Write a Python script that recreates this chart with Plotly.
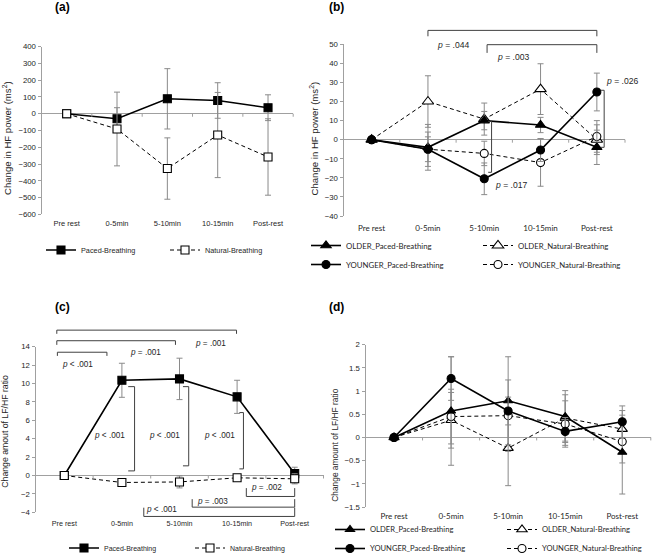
import plotly.graph_objects as go

W, H = 657, 554

categories = ["Pre rest", "0-5min", "5-10min", "10-15min", "Post-rest"]

# ---------------- Panel (a): change in HF power ----------------
a_paced = [0, -30, 89, 79, 36]
a_paced_err = [0, 66, 180, 106, 77]
a_natural = [0, -91, -327, -127, -258]
a_natural_err = [0, 220, 183, 254, 228]

# ---------------- Panel (b): HF power by age group ----------------
b_older_paced = [0, -4, 10, 7.7, -4]
b_older_paced_err = [0, 12, 4.8, 4, 9]
b_older_natural = [0, 20, 10.8, 26.5, 0]
b_older_natural_err = [0, 13.5, 8.4, 13.3, 7.8]
b_younger_paced = [0, -5, -20.5, -5.4, 25]
b_younger_paced_err = [0, 9, 8.3, 6, 9.9]
b_younger_natural = [0, -5, -7.2, -12, 1.7]
b_younger_natural_err = [0, 6.5, 6.4, 12.4, 8.3]

# ---------------- Panel (c): LF/HF ratio ----------------
c_paced = [0, 10.35, 10.5, 8.55, 0.2]
c_paced_err = [0, 1.85, 2.25, 1.8, 0.7]
c_natural = [0, -0.76, -0.7, -0.25, -0.36]
c_natural_err = [0, 0.3, 0.65, 0.3, 0.55]

# ---------------- Panel (d): LF/HF ratio by age group ----------------
d_older_paced = [0, 0.57, 0.79, 0.45, -0.32]
d_older_paced_err = [0, 1.17, 0.95, 0.56, 0.9]
d_older_natural = [0, 0.37, -0.23, 0.42, 0.18]
d_older_natural_err = [0, 0.6, 0.81, 0.5, 0.3]
d_younger_paced = [0, 1.27, 0.57, 0.13, 0.34]
d_younger_paced_err = [0, 0.47, 0.3, 0.3, 0.34]
d_younger_natural = [0, 0.45, 0.47, 0.29, -0.09]
d_younger_natural_err = [0, 0.59, 0.77, 0.5, 0.46]

# ---------------- significance brackets (category index, value) ----------------
b_brackets_h = [(1.0, 4.0, 57.3, 54.2), (2.05, 4.0, 49.8, 45.5)]
b_brackets_v = [(4.13, 4.07, 25.9, -4.0), (2.13, 2.07, 9.6, -17.1)]
b_pvals = [("p", " = .044", 1.46, 49.7, "center"), ("p", " = .003", 2.52, 43.3, "center"),
           ("p", " = .026", 4.12, 30.9, "left"), ("p", " = .017", 2.15, -23.9, "left")]

c_brackets_h = [(-0.13, 2.99, 15.8, 15.4), (-0.13, 1.93, 14.65, 14.2), (-0.12, 0.74, 13.4, 13.0),
                (3.16, 4.0, -2.28, -1.37), (2.22, 4.0, -3.44, -2.57), (1.38, 4.0, -4.45, -3.5)]
c_brackets_v = [(1.22, 1.11, 9.66, 0.5), (2.16, 2.06, 9.66, 1.05), (3.11, 3.04, 6.84, 0.72)]
c_pvals = [("p", " < .001", 0.23, 12.1), ("p", " = .001", 1.41, 13.4), ("p", " = .001", 2.54, 14.4),
           ("p", " < .001", 0.79, 4.34), ("p", " < .001", 1.74, 4.34), ("p", " < .001", 2.69, 4.34),
           ("p", " = .002", 3.51, -1.35), ("p", " = .003", 2.57, -2.82), ("p", " < .001", 1.69, -3.65)]

# ---------------- geometry / style ----------------
P = {
    "a": dict(x0=41.5, x1=293.2, y0=46.7, y1=214.3, ymin=-600, ymax=400, dtick=100, ax="", so=3),
    "b": dict(x0=343.5, x1=625.0, y0=44.3, y1=216.0, ymin=-40, ymax=50, dtick=10, ax="2", so=6),
    "c": dict(x0=35.5, x1=323.5, y0=346.7, y1=512.3, ymin=-4, ymax=14, dtick=2, ax="3", so=5),
    "d": dict(x0=365.5, x1=650.8, y0=344.7, y1=507.0, ymin=-1.5, ymax=2, dtick=0.5, ax="4", so=3),
}
ARIAL = "Liberation Sans, Arial, sans-serif"
CALIBRI = "Lato, Carlito, Calibri, sans-serif"
AX = "#a0a0a0"
ERR = "#8a8a8a"
TXT = "#262626"


def fx(p, xv):
    g = P[p]
    return (g["x0"] + (xv + 0.5) / 5 * (g["x1"] - g["x0"])) / W


def fy(p, yv):
    g = P[p]
    return 1 - (g["y0"] + (g["ymax"] - yv) / (g["ymax"] - g["ymin"]) * (g["y1"] - g["y0"])) / H


fig = go.Figure()


def add_series(panel, y, err, symbol, filled, dashed, name, legend, size):
    g = P[panel]
    fig.add_trace(go.Scatter(
        x=categories, y=y, name=name, mode="lines+markers",
        xaxis="x" + g["ax"], yaxis="y" + g["ax"], legend=legend,
        line=dict(color="black", width=1.0 if dashed else 1.6, dash="4px,3px" if dashed else "solid"),
        marker=dict(symbol=symbol, size=size, color="black" if filled else "white",
                    line=dict(color="black", width=1.1)),
        error_y=dict(type="data", array=err, visible=True, color=ERR, thickness=1, width=3),
    ))


add_series("a", a_paced, a_paced_err, "square", True, False, "Paced-Breathing", "legend", 8)
add_series("a", a_natural, a_natural_err, "square", False, True, "Natural-Breathing", "legend2", 8)

add_series("b", b_older_natural, b_older_natural_err, "triangle-up", False, True, "OLDER_Natural-Breathing", "legend4", 10)
add_series("b", b_younger_natural, b_younger_natural_err, "circle", False, True, "YOUNGER_Natural-Breathing", "legend4", 8)
add_series("b", b_older_paced, b_older_paced_err, "triangle-up", True, False, "OLDER_Paced-Breathing", "legend3", 9)
add_series("b", b_younger_paced, b_younger_paced_err, "circle", True, False, "YOUNGER_Paced-Breathing", "legend3", 8)

add_series("c", c_paced, c_paced_err, "square", True, False, "Paced-Breathing", "legend5", 8)
add_series("c", c_natural, c_natural_err, "square", False, True, "Natural-Breathing", "legend6", 8)

add_series("d", d_older_natural, d_older_natural_err, "triangle-up", False, True, "OLDER_Natural-Breathing", "legend8", 9)
add_series("d", d_younger_natural, d_younger_natural_err, "circle", False, True, "YOUNGER_Natural-Breathing", "legend8", 8)
add_series("d", d_older_paced, d_older_paced_err, "triangle-up", True, False, "OLDER_Paced-Breathing", "legend7", 8)
add_series("d", d_younger_paced, d_younger_paced_err, "circle", True, False, "YOUNGER_Paced-Breathing", "legend7", 8)

layout = dict(
    width=W, height=H, margin=dict(l=0, r=0, t=0, b=0, autoexpand=False),
    paper_bgcolor="white", plot_bgcolor="white", showlegend=True,
)

xfont = {"a": ARIAL, "b": CALIBRI, "c": ARIAL, "d": CALIBRI}
xsize = {"a": 7.5, "b": 8, "c": 7.2, "d": 8}
for k, g in P.items():
    layout["xaxis" + g["ax"]] = dict(
        domain=[g["x0"] / W, g["x1"] / W], anchor="y" + g["ax"], type="category",
        range=[-0.5, 4.5], showline=False, showgrid=False, zeroline=False, ticks="",
        tickfont=dict(family=xfont[k], size=xsize[k], color=TXT), ticklabelstandoff=g["so"],
    )
    layout["yaxis" + g["ax"]] = dict(
        domain=[1 - g["y1"] / H, 1 - g["y0"] / H], anchor="x" + g["ax"],
        range=[g["ymin"], g["ymax"]], dtick=g["dtick"], tick0=0, showgrid=False,
        showline=True, linecolor=AX, linewidth=1, ticks="outside", ticklen=3, tickcolor=AX,
        zeroline=True, zerolinecolor=AX, zerolinewidth=1,
        tickfont=dict(family=ARIAL, size=7.8, color=TXT),
    )


def leg(xpx, ypx, fam, size):
    return dict(x=xpx / W, y=1 - ypx / H, xanchor="left", yanchor="middle", orientation="v",
                bgcolor="rgba(0,0,0,0)", borderwidth=0, tracegroupgap=0,
                font=dict(family=fam, size=size, color=TXT))


layout["legend"] = leg(41, 250, ARIAL, 7.3)
layout["legend2"] = leg(165, 250, ARIAL, 7.3)
layout["legend3"] = leg(306, 255, CALIBRI, 7.8)
layout["legend4"] = leg(478, 255, CALIBRI, 7.8)
layout["legend5"] = leg(64, 548, ARIAL, 7.0)
layout["legend6"] = leg(190, 548, ARIAL, 7.0)
layout["legend7"] = leg(330, 539, CALIBRI, 7.6)
layout["legend8"] = leg(502, 539, CALIBRI, 7.6)

shapes = []
annotations = []

# tick marks on the category (zero) axis between categories
for k in P:
    for b in [0.5, 1.5, 2.5, 3.5, 4.5]:
        xp = fx(k, b)
        yp = fy(k, 0)
        shapes.append(dict(type="line", xref="paper", yref="paper", x0=xp, x1=xp,
                           y0=yp, y1=yp - 3 / H, line=dict(color=AX, width=1)))


def hbracket(p, x0, x1, yb, yt):
    path = "M {:.5f},{:.5f} L {:.5f},{:.5f} L {:.5f},{:.5f} L {:.5f},{:.5f}".format(
        fx(p, x0), fy(p, yt), fx(p, x0), fy(p, yb), fx(p, x1), fy(p, yb), fx(p, x1), fy(p, yt))
    shapes.append(dict(type="path", xref="paper", yref="paper", path=path,
                       line=dict(color="#404040", width=1)))


def vbracket(p, xb, xt, y0, y1):
    path = "M {:.5f},{:.5f} L {:.5f},{:.5f} L {:.5f},{:.5f} L {:.5f},{:.5f}".format(
        fx(p, xt), fy(p, y0), fx(p, xb), fy(p, y0), fx(p, xb), fy(p, y1), fx(p, xt), fy(p, y1))
    shapes.append(dict(type="path", xref="paper", yref="paper", path=path,
                       line=dict(color="#404040", width=1)))


for br in b_brackets_h:
    hbracket("b", *br)
for br in b_brackets_v:
    vbracket("b", *br)
for br in c_brackets_h:
    hbracket("c", *br)
for br in c_brackets_v:
    vbracket("c", *br)

for letter, rest, xv, yv, anc in b_pvals:
    annotations.append(dict(xref="paper", yref="paper", x=fx("b", xv), y=fy("b", yv),
                            text="<i>" + letter + "</i>" + rest, showarrow=False,
                            xanchor=anc, yanchor="middle",
                            font=dict(family=ARIAL, size=8.6, color=TXT)))
for letter, rest, xv, yv in c_pvals:
    annotations.append(dict(xref="paper", yref="paper", x=fx("c", xv), y=fy("c", yv),
                            text="<i>" + letter + "</i>" + rest, showarrow=False,
                            xanchor="center", yanchor="middle",
                            font=dict(family=ARIAL, size=8.2, color=TXT)))

# panel letters
for txt, xpx, ypx in [("(a)", 62.5, 7), ("(b)", 336.5, 7), ("(c)", 62.5, 306.7), ("(d)", 336.5, 306.7)]:
    annotations.append(dict(xref="paper", yref="paper", x=xpx / W, y=1 - ypx / H, text="<b>" + txt + "</b>",
                            showarrow=False, xanchor="center", yanchor="middle",
                            font=dict(family=ARIAL, size=12, color="black")))

# y-axis titles
for txt, xpx, ypx, sz in [("Change in HF power (ms<sup>2</sup>)", 7, 138, 9.6),
                          ("Change in HF power (ms<sup>2</sup>)", 313.5, 139, 9.6),
                          ("Change amout of LF/HF ratio", 5, 431.7, 8.7),
                          ("Change amount of LF/HF ratio", 335, 445.8, 8.4)]:
    annotations.append(dict(xref="paper", yref="paper", x=xpx / W, y=1 - ypx / H, text=txt,
                            showarrow=False, textangle=-90, xanchor="center", yanchor="middle",
                            font=dict(family=ARIAL, size=sz, color=TXT)))

layout["shapes"] = shapes
layout["annotations"] = annotations
fig.update_layout(**layout)
fig.write_html("out.html", config={"displayModeBar": False},
               post_script="document.body.style.margin='0';document.body.style.padding='0';")
